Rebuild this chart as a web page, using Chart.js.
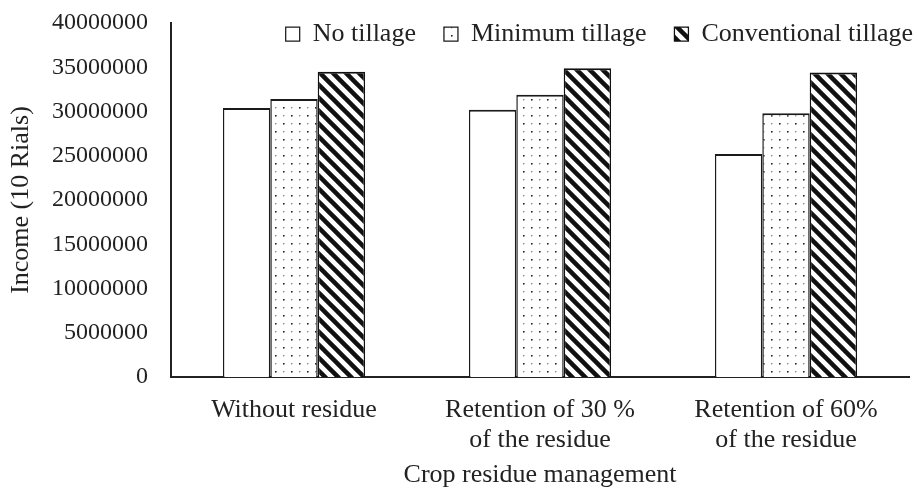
<!DOCTYPE html>
<html>
<head>
<meta charset="utf-8">
<script src="https://cdn.jsdelivr.net/npm/chart.js@4.4.1/dist/chart.umd.min.js"></script>
<style>
  html, body { margin: 0; padding: 0; background: #fff; }
  #wrap { width: 918px; height: 489px; }
</style>
</head>
<body>
<div id="wrap"><canvas id="chart" width="918" height="489"></canvas></div>
<script>
// values
const categories = [
  ['Without residue'],
  ['Retention of 30 %', 'of the residue'],
  ['Retention of 60%', 'of the residue']
];
const seriesNames = ['No tillage', 'Minimum tillage', 'Conventional tillage'];
const noTillage = [30400000, 30200000, 25200000];
const minimumTillage = [31400000, 31900000, 29800000];
const conventionalTillage = [34500000, 34900000, 34400000];
const yTicks = [0, 5000000, 10000000, 15000000, 20000000, 25000000, 30000000, 35000000, 40000000];
const yTitle = 'Income (10 Rials)';
const xTitle = 'Crop residue management';

const serif = 'Liberation Serif, Times New Roman, serif';
const ink = '#222';
const canvas = document.getElementById('chart');
const ctx = canvas.getContext('2d');

function dotPattern() {
  const tile = document.createElement('canvas');
  tile.width = 16;
  tile.height = 16;
  const g = tile.getContext('2d');
  g.fillStyle = '#fff';
  g.fillRect(0, 0, 16, 16);
  g.fillStyle = '#222';
  g.fillRect(3, 3, 1.6, 1.6);
  g.fillRect(11, 11, 1.6, 1.6);
  g.fillStyle = '#8a8a8a';
  g.fillRect(11, 3, 1.4, 1.4);
  g.fillRect(3, 11, 1.4, 1.4);
  return ctx.createPattern(tile, 'repeat');
}

function stripePattern() {
  const s = 13;
  const tile = document.createElement('canvas');
  tile.width = s;
  tile.height = s;
  const g = tile.getContext('2d');
  g.fillStyle = '#fff';
  g.fillRect(0, 0, s, s);
  g.strokeStyle = '#111';
  g.lineWidth = 4.5;
  for (const k of [-s, 0, s]) {
    g.beginPath();
    g.moveTo(k - 2, -2);
    g.lineTo(k + s + 2, s + 2);
    g.stroke();
  }
  return ctx.createPattern(tile, 'repeat');
}

const barBorder = { top: 2, left: 1.5, right: 1.5, bottom: 0 };

// legend overlaps the top of the plot, so it takes no room and gets lifted into place
const legendNudge = {
  id: 'legendNudge',
  afterLayout(chart) {
    const lg = chart.legend;
    const pad = lg.options.labels.padding;
    const w = lg.right - lg.left;
    lg.top = chart.chartArea.top - pad - 2;
    lg.bottom = lg.top + 90;
    lg.right = chart.width + pad - 5;
    lg.left = lg.right - w;
  }
};

new Chart(ctx, {
  type: 'bar',
  data: {
    labels: categories,
    datasets: [
      {
        label: seriesNames[0],
        data: noTillage,
        backgroundColor: '#fff',
        borderColor: '#1a1a1a',
        borderWidth: barBorder
      },
      {
        label: seriesNames[1],
        data: minimumTillage,
        backgroundColor: dotPattern(),
        borderColor: '#1a1a1a',
        borderWidth: barBorder
      },
      {
        label: seriesNames[2],
        data: conventionalTillage,
        backgroundColor: stripePattern(),
        borderColor: '#111',
        borderWidth: barBorder
      }
    ]
  },
  options: {
    responsive: false,
    animation: false,
    layout: { padding: { top: 22, right: 9, bottom: 0, left: 0 } },
    datasets: {
      bar: { barPercentage: 1, categoryPercentage: 0.578, borderSkipped: false }
    },
    scales: {
      x: {
        grid: { display: false, drawTicks: false },
        border: { display: true, color: '#222', width: 2 },
        ticks: {
          color: ink,
          padding: 18,
          maxRotation: 0,
          autoSkip: false,
          font: { family: serif, size: 26, lineHeight: 1.15 }
        },
        title: {
          display: true,
          text: xTitle,
          color: ink,
          padding: { top: 0, bottom: 1 },
          font: { family: serif, size: 26, lineHeight: 1 }
        },
        afterFit(scale) { scale.height = 112; }
      },
      y: {
        min: 0,
        max: 40000000,
        grid: { display: false, drawTicks: false },
        border: { display: true, color: '#222', width: 2 },
        afterBuildTicks(scale) { scale.ticks = yTicks.map(v => ({ value: v })); },
        ticks: {
          color: ink,
          padding: 23,
          font: { family: serif, size: 24 },
          callback: v => String(v)
        },
        title: {
          display: true,
          text: yTitle,
          color: ink,
          padding: { top: 6, bottom: 0 },
          font: { family: serif, size: 26, lineHeight: 1.2 }
        },
        afterFit(scale) {
          scale.width = 171;
          // tick padding would otherwise push the plot top down
          scale.paddingTop = 0;
          scale.paddingBottom = 0;
        }
      }
    },
    plugins: {
      tooltip: { enabled: false },
      legend: {
        position: 'top',
        align: 'end',
        maxHeight: 1,
        labels: {
          color: ink,
          boxWidth: 14,
          boxHeight: 14,
          padding: 28,
          font: { family: serif, size: 26 }
        }
      }
    }
  },
  plugins: [legendNudge]
});
</script>
</body>
</html>
